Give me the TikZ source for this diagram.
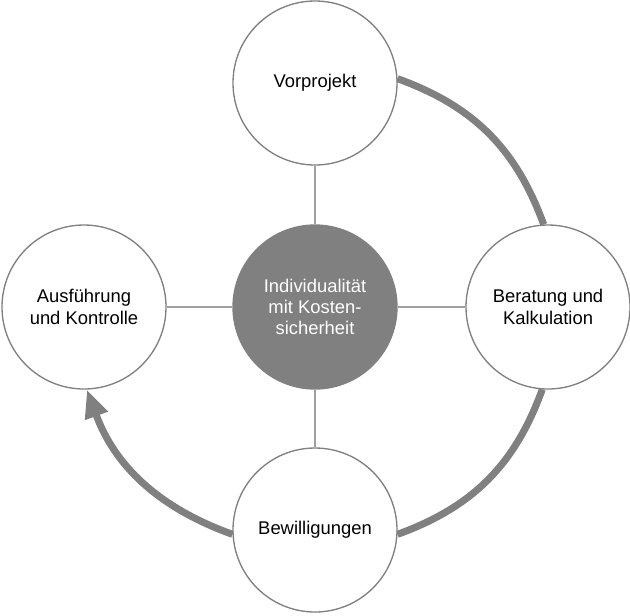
\documentclass[tikz,border=0pt]{standalone}
\usepackage{fontspec}
\setmainfont{Liberation Sans}
\usetikzlibrary{arrows.meta}

\definecolor{kreisgrau}{RGB}{128,128,128}
\definecolor{liniengrau}{RGB}{160,160,160}

\tikzset{
  phase/.style={circle,draw=kreisgrau,line width=1pt,fill=white,minimum size=123pt,inner sep=0pt,align=center,font=\fontsize{13.8}{16}\selectfont},
  kern/.style={phase,fill=kreisgrau,text=white},
  speiche/.style={draw=liniengrau,line width=0.8pt},
  kreislauf/.style={draw=kreisgrau,line width=5.3pt}
}

\begin{document}
\begin{tikzpicture}[x=0.75pt,y=0.75pt,yscale=-1,xscale=1]
\useasboundingbox (0,0) rectangle (630,615);

%Shape: Circle [center]
\node[kern] (kern) at (315,307) {Individualität\\mit Kosten-\\sicherheit};
%Shape: Circle [top]
\node[phase] (vor) at (315,83) {Vorprojekt};
%Shape: Circle [right]
\node[phase] (ber) at (548,307) {Beratung und\\Kalkulation};
%Shape: Circle [bottom]
\node[phase] (bew) at (315,530) {Bewilligungen};
%Shape: Circle [left]
\node[phase] (aus) at (84,307) {Ausführung\\und Kontrolle};

%Straight Lines
\draw[speiche] (kern) -- (vor);
\draw[speiche] (kern) -- (ber);
\draw[speiche] (kern) -- (bew);
\draw[speiche] (kern) -- (aus);

%Curve Lines
\draw[kreislauf] (vor.3) to[bend right=25] (ber.93);
\draw[kreislauf] (ber.-94) to[bend right=25] (bew.-3);
\draw[kreislauf,-{Triangle[length=21pt,width=17pt]}] (bew.183) to[bend right=25] (aus.-88);
\end{tikzpicture}
\end{document}
